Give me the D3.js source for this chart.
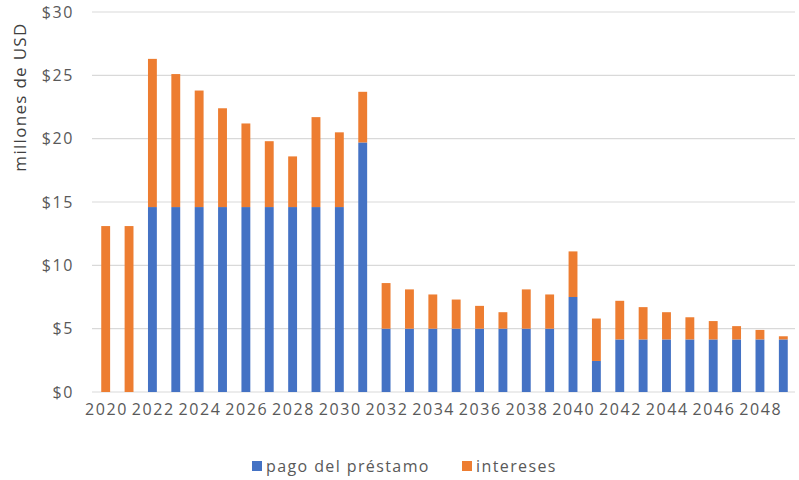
<!DOCTYPE html>
<html>
<head>
<meta charset="utf-8">
<script src="https://cdn.jsdelivr.net/npm/d3@7"></script>
<style>
  html, body { margin: 0; padding: 0; background: #fff; }
  svg { display: block; font-family: "Open Sans", "Noto Sans", sans-serif; }
</style>
</head>
<body>
<svg id="chart" width="799" height="480"></svg>
<script>
// Annual debt service, millions of USD
const years = d3.range(2020, 2050);
const principal = [0, 0, 14.6, 14.6, 14.6, 14.6, 14.6, 14.6, 14.6, 14.6, 14.6, 19.7,
  5.0, 5.0, 5.0, 5.0, 5.0, 5.0, 5.0, 5.0, 7.5, 2.45,
  4.15, 4.15, 4.15, 4.15, 4.15, 4.15, 4.15, 4.15];
const interest = [13.1, 13.1, 11.7, 10.5, 9.2, 7.8, 6.6, 5.2, 4.0, 7.1, 5.9, 4.0,
  3.6, 3.1, 2.7, 2.3, 1.8, 1.3, 3.1, 2.7, 3.6, 3.35,
  3.05, 2.55, 2.15, 1.75, 1.45, 1.05, 0.75, 0.25];
const yTicks = [0, 5, 10, 15, 20, 25, 30];
const xTickYears = d3.range(2020, 2049, 2);
const seriesNames = ["pago del préstamo", "intereses"];
const colors = ["#4472C4", "#ED7D31"];

const svg = d3.select("#chart");
const margin = { left: 94, right: 4, top: 12, bottom: 88 };
const W = 799, H = 480;

const rows = years.map((yr, i) => ({ year: yr, principal: principal[i], interest: interest[i] }));
const stack = d3.stack().keys(["principal", "interest"])(rows);

const x = d3.scaleBand().domain(years).range([margin.left, W - margin.right]).paddingInner(0.62).paddingOuter(0.31);
const y = d3.scaleLinear().domain([0, 30]).range([H - margin.bottom, margin.top]);

// horizontal gridlines
svg.append("g")
  .selectAll("line")
  .data(yTicks)
  .join("line")
  .attr("x1", 92).attr("x2", W - 4)
  .attr("y1", d => y(d)).attr("y2", d => y(d))
  .attr("stroke", "#d9d9d9").attr("stroke-width", 1.2);

// y-axis labels
const yAxis = d3.axisLeft(y).tickValues(yTicks).tickSize(0).tickPadding(0).tickFormat(d => "$" + d);
svg.append("g")
  .attr("transform", "translate(74,0)")
  .call(yAxis)
  .call(g => g.select(".domain").remove())
  .selectAll("text")
  .attr("fill", "#595959")
  .style("font-size", "16px")
  .style("letter-spacing", "1.6px")
  .style("font-family", "'Open Sans', sans-serif");

// stacked bars
svg.append("g")
  .selectAll("g")
  .data(stack)
  .join("g")
  .attr("fill", (d, i) => colors[i])
  .selectAll("rect")
  .data(d => d)
  .join("rect")
  .attr("x", d => x(d.data.year))
  .attr("width", x.bandwidth())
  .attr("y", d => y(d[1]))
  .attr("height", d => Math.max(0, y(d[0]) - y(d[1])));

// x-axis labels every other year
const xAxis = d3.axisBottom(x).tickValues(xTickYears).tickSize(0).tickPadding(0);
svg.append("g")
  .attr("transform", `translate(0,${H - margin.bottom + 12})`)
  .call(xAxis)
  .call(g => g.select(".domain").remove())
  .selectAll("text")
  .attr("fill", "#595959")
  .attr("dy", "0.71em")
  .attr("dx", "0.8px")
  .style("font-size", "16px")
  .style("letter-spacing", "1.6px")
  .style("font-family", "'Open Sans', sans-serif");

// y-axis title
svg.append("text")
  .attr("transform", "translate(26,97) rotate(-90)")
  .attr("text-anchor", "middle")
  .attr("fill", "#404040")
  .style("font-size", "17px")
  .style("letter-spacing", "1.3px")
  .text("millones de USD");

// legend
const legend = svg.append("g").attr("transform", "translate(252,466)");
const legendX = [0, 210];
seriesNames.forEach((name, i) => {
  const g = legend.append("g").attr("transform", `translate(${legendX[i]},0)`);
  g.append("rect").attr("x", 0).attr("y", -5).attr("width", 10).attr("height", 10).attr("fill", colors[i]);
  g.append("text").attr("x", 14).attr("y", 0).attr("dy", "0.35em")
    .attr("fill", "#595959").style("font-size", "16px").style("letter-spacing", "1.4px").text(name);
});
</script>
</body>
</html>
